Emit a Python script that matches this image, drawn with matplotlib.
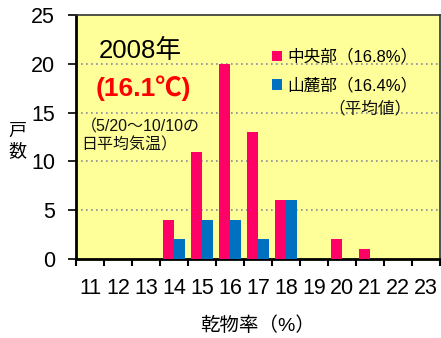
import matplotlib
matplotlib.use("Agg")
import matplotlib.pyplot as plt
import numpy as np
from matplotlib.patches import Patch

plt.rcParams['font.family'] = ['Liberation Sans', 'Noto Sans CJK JP', 'DejaVu Sans']

categories = [11, 12, 13, 14, 15, 16, 17, 18, 19, 20, 21, 22, 23]
central = [0, 0, 0, 4, 11, 20, 13, 6, 0, 2, 1, 0, 0]
foothill = [0, 0, 0, 2, 4, 4, 2, 6, 0, 0, 0, 0, 0]
series_labels = ['中央部（16.8%）', '山麓部（16.4%）']
y_ticks = [0, 5, 10, 15, 20, 25]

pink = '#FF0066'
blue = '#0070C0'

fig = plt.figure(figsize=(4.41, 3.38), dpi=100)
ax = fig.add_axes([76 / 441, 1 - 259 / 338, 364 / 441, 244 / 338])
ax.set_facecolor('#FFFF99')

x = np.arange(len(categories))
w = 0.41
ax.bar(x - w / 2, central, width=w, color=pink, zorder=3)
ax.bar(x + w / 2, foothill, width=w, color=blue, zorder=3)

ax.set_xlim(-0.5, len(categories) - 0.5)
ax.set_ylim(0, 25)
ax.set_yticks(y_ticks)
ax.set_yticklabels([str(v) for v in y_ticks], fontsize=15.5)
for v in y_ticks[1:-1]:
    ax.axhline(v, color='#8a8a9a', lw=1.2, ls=(0, (1, 2)), zorder=1)

ax.set_xticks(x)
ax.set_xticklabels([str(c) for c in categories], fontsize=15.5)
ax.set_xticks(np.arange(len(categories) + 1) - 0.5, minor=True)
ax.tick_params(axis='x', which='major', length=0, pad=14)
ax.tick_params(axis='x', which='minor', length=5, width=1.5, direction='out')
ax.tick_params(axis='y', length=6, width=1.2, direction='out', pad=9)

for side in ['left', 'bottom']:
    ax.spines[side].set_linewidth(2)
    ax.spines[side].set_color('black')
for side in ['top', 'right']:
    ax.spines[side].set_linewidth(1.2)
    ax.spines[side].set_color('#333333')

ax.set_xlabel('乾物率（%）', fontsize=14, labelpad=12)
fig.text(17 / 441, 1 - 141 / 338, '戸\n数', fontsize=13, ha='center', va='center',
         linespacing=1.25)

fig.text(99 / 441, 1 - 51 / 338, '2008年', fontsize=18.5, ha='left', va='center')
fig.text(96 / 441, 1 - 88 / 338, '(16.1℃)', fontsize=19, ha='left', va='center',
         color='#FF0000', fontweight='bold')
fig.text(81 / 441, 1 - 136 / 338, '（5/20～10/10の\n日平均気温）', fontsize=11.5,
         ha='left', va='center', linespacing=1.25, color='#111111')

handles = [Patch(facecolor=pink, edgecolor='none'), Patch(facecolor=blue, edgecolor='none')]
leg = ax.legend(handles, series_labels, loc='upper left', bbox_to_anchor=(272 / 441, 1 - 49 / 338),
                bbox_transform=fig.transFigure, frameon=False, fontsize=12, borderpad=0,
                borderaxespad=0, handlelength=0.6, handleheight=0.6, handletextpad=0.3,
                labelspacing=0.75)
fig.text(412 / 441, 1 - 108 / 338, '（平均値）', fontsize=12, ha='right', va='center',
         color='#111111')

fig.savefig('out.png', dpi=100, facecolor='white')
